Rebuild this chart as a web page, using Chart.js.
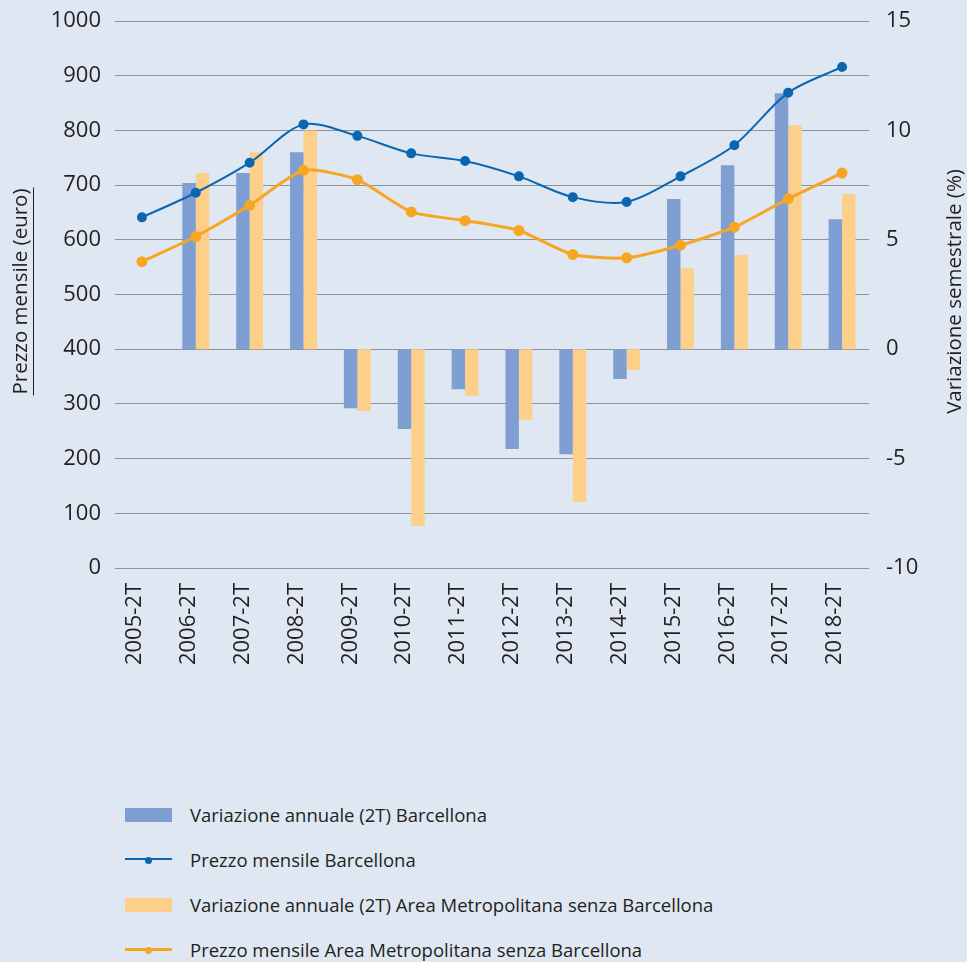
<!DOCTYPE html>
<html>
<head>
<meta charset="utf-8">
<script src="https://cdn.jsdelivr.net/npm/chart.js@4.4.1/dist/chart.umd.min.js"></script>
<style>
  html, body { margin: 0; padding: 0; background: #dfe7f3; }
  body { width: 967px; height: 962px; position: relative; overflow: hidden; font-family: "Open Sans", sans-serif; color: #231f20; }
  #chart { position: absolute; left: 0; top: 0; }
  #legend { position: absolute; left: 125px; top: 802px; }
  .item { height: 45px; display: flex; align-items: flex-start; font-size: 18.5px; line-height: 26px; }
  .sym { width: 47px; height: 26px; position: relative; margin-right: 18px; flex: none; }
  .box { position: absolute; left: 0; top: 6px; width: 47px; height: 14px; }
  .ln { position: absolute; left: 0; top: 12px; width: 47px; }
  .dot { position: absolute; left: 20px; top: 10px; width: 7px; height: 7px; border-radius: 50%; }
</style>
</head>
<body>
<canvas id="chart" width="967" height="700"></canvas>
<div id="legend"></div>
<script>
// Data
const categories = ['2005-2T', '2006-2T', '2007-2T', '2008-2T', '2009-2T', '2010-2T', '2011-2T',
                    '2012-2T', '2013-2T', '2014-2T', '2015-2T', '2016-2T', '2017-2T', '2018-2T'];
const varBarcellona = [null, 7.6, 8.05, 9.0, -2.7, -3.65, -1.83, -4.56, -4.8, -1.36, 6.86, 8.41, 11.7, 5.94];
const varArea = [null, 8.05, 9.0, 10.0, -2.82, -8.08, -2.13, -3.23, -6.98, -0.95, 3.7, 4.3, 10.24, 7.09];
const prezzoBarcellona = [641, 686, 741, 811, 790, 758, 744, 716, 678, 669, 716, 773, 869, 916];
const prezzoArea = [560, 606, 663, 727, 710, 651, 635, 617, 573, 567, 590, 623, 675, 722];

const leftTitle = 'Prezzo mensile (euro)';
const rightTitle = 'Variazione semestrale (%)';

const TEXT = '#231f20';
const FONT = '"Open Sans", sans-serif';

const datasets = [
    {
        type: 'bar', label: 'Variazione annuale (2T) Barcellona', data: varBarcellona,
        backgroundColor: '#7f9fd3', yAxisID: 'y1', order: 2,
        categoryPercentage: 0.5, barPercentage: 1.0
    },
    {
        type: 'line', label: 'Prezzo mensile Barcellona', data: prezzoBarcellona,
        borderColor: '#0b66b2', backgroundColor: '#0b66b2', borderWidth: 2,
        pointRadius: 4, pointHoverRadius: 4, tension: 0.3, yAxisID: 'y', order: 1
    },
    {
        type: 'bar', label: 'Variazione annuale (2T) Area Metropolitana senza Barcellona', data: varArea,
        backgroundColor: '#fdd08a', yAxisID: 'y1', order: 2,
        categoryPercentage: 0.5, barPercentage: 1.0
    },
    {
        type: 'line', label: 'Prezzo mensile Area Metropolitana senza Barcellona', data: prezzoArea,
        borderColor: '#f6a623', backgroundColor: '#f6a623', borderWidth: 3,
        pointRadius: 4, pointHoverRadius: 4, tension: 0.2, yAxisID: 'y', order: 1
    }
];

// axis titles drawn by hand: both read bottom-to-top, left one underlined
const axisTitles = {
    id: 'axisTitles',
    afterDraw(chart) {
        const ctx = chart.ctx;
        const area = chart.chartArea;
        const cy = (area.top + area.bottom) / 2 - 3;
        ctx.save();
        ctx.fillStyle = TEXT;
        ctx.font = '20.5px ' + FONT;
        ctx.textAlign = 'center';
        ctx.textBaseline = 'middle';

        const w = ctx.measureText(leftTitle).width;
        ctx.save();
        ctx.translate(21, cy);
        ctx.rotate(-Math.PI / 2);
        ctx.fillText(leftTitle, 0, 0);
        ctx.restore();
        ctx.strokeStyle = TEXT;
        ctx.lineWidth = 1;
        ctx.beginPath();
        ctx.moveTo(33.5, cy - w / 2 - 1);
        ctx.lineTo(33.5, cy + w / 2 + 1);
        ctx.stroke();

        ctx.save();
        ctx.translate(955, cy);
        ctx.rotate(-Math.PI / 2);
        ctx.fillText(rightTitle, 0, 0);
        ctx.restore();
        ctx.restore();
    }
};

// keep the label overhang from pushing the plot area down
function noOverhang(scale) {
    scale.paddingTop = 0;
    scale.paddingBottom = 0;
}

const chart = new Chart(document.getElementById('chart'), {
    data: { labels: categories, datasets: datasets },
    options: {
        responsive: false,
        animation: false,
        layout: { padding: { top: 21, left: 0, right: 0, bottom: 0 } },
        plugins: {
            legend: { display: false },
            tooltip: { enabled: false }
        },
        scales: {
            x: {
                grid: { display: false },
                border: { display: false },
                ticks: {
                    color: TEXT, font: { family: FONT, size: 22 },
                    minRotation: 90, maxRotation: 90, padding: 7, labelOffset: -7
                },
                afterFit(scale) { scale.height = 132; }
            },
            y: {
                position: 'left', min: 0, max: 1000,
                grid: { color: '#8d929c', lineWidth: 1, drawTicks: false },
                border: { display: false },
                ticks: {
                    stepSize: 100, color: TEXT, font: { family: FONT, size: 22 }, padding: 14,
                    callback: v => String(v)
                },
                afterFit(scale) { scale.width = 115; noOverhang(scale); }
            },
            y1: {
                position: 'right', min: -10, max: 15,
                grid: { display: false, drawTicks: false },
                border: { display: false },
                ticks: { stepSize: 5, color: TEXT, font: { family: FONT, size: 22 }, padding: 17 },
                afterFit(scale) { scale.width = 98; noOverhang(scale); }
            }
        }
    },
    plugins: [axisTitles]
});

// legend built from the datasets, one entry per row
const legendEl = document.getElementById('legend');
datasets.forEach(ds => {
    const row = document.createElement('div');
    row.className = 'item';
    const sym = document.createElement('div');
    sym.className = 'sym';
    if (ds.type === 'bar') {
        const box = document.createElement('div');
        box.className = 'box';
        box.style.background = ds.backgroundColor;
        sym.appendChild(box);
    } else {
        const ln = document.createElement('div');
        ln.className = 'ln';
        ln.style.borderTop = ds.borderWidth + 'px solid ' + ds.borderColor;
        ln.style.marginTop = (-Math.floor(ds.borderWidth / 2)) + 'px';
        const dot = document.createElement('div');
        dot.className = 'dot';
        dot.style.background = ds.borderColor;
        sym.appendChild(ln);
        sym.appendChild(dot);
    }
    const txt = document.createElement('span');
    txt.textContent = ds.label;
    row.appendChild(sym);
    row.appendChild(txt);
    legendEl.appendChild(row);
});
</script>
</body>
</html>
